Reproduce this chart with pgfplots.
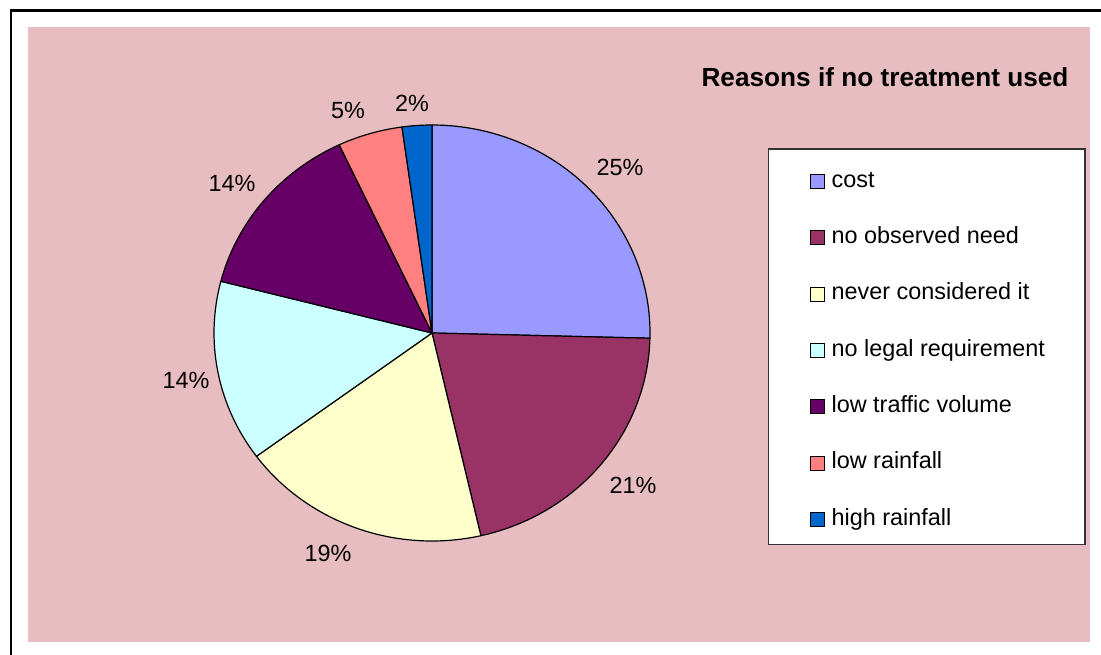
\documentclass[border=0pt]{standalone}
\usepackage{pgfplots}
\pgfplotsset{compat=1.18}
\usepackage{fontspec}
\setmainfont{Liberation Sans}
\definecolor{bgpink}{RGB}{231,189,193}
\definecolor{cCost}{HTML}{9999FF}
\definecolor{cNeed}{HTML}{993366}
\definecolor{cNever}{HTML}{FFFFCC}
\definecolor{cLegal}{HTML}{CCFFFF}
\definecolor{cTraffic}{HTML}{660066}
\definecolor{cLowRain}{HTML}{FF8080}
\definecolor{cHighRain}{HTML}{0066CC}
\begin{document}
\begin{tikzpicture}
\path[use as bounding box] (0,0) rectangle (1101bp,655bp);
\begin{axis}[
  at={(0,0)}, anchor=south west,
  scale only axis, width=1101bp, height=655bp,
  xmin=0, xmax=1101, ymin=0, ymax=655, y dir=reverse,
  hide axis, clip=false,
  legend image code/.code={\filldraw[#1] (0bp,-7bp) rectangle (14bp,7bp);},
  legend style={at={(axis cs:810,170)}, anchor=north west, draw=none, fill=none,
    font=\fontsize{23.5}{27}\selectfont, row sep=34.3bp, inner xsep=0pt, inner ysep=0pt,
    nodes={inner sep=0pt, text height=17bp, text depth=5bp},
    /tikz/every odd column/.append style={column sep=7bp}},
  legend cell align=left,
]
% frame and background
\draw[line width=2.5bp] (axis cs:10,10.5) -- (axis cs:1101,10.5);
\draw[line width=2bp] (axis cs:11.3,9.3) -- (axis cs:11.3,655);
\fill[bgpink] (axis cs:28,27) rectangle (axis cs:1090,642);
% pie slices from the data
\xdef\cum{0}
\foreach \v/\c in {25.4/cCost, 21.0/cNeed, 18.5/cNever, 14.1/cLegal, 14.0/cTraffic, 4.8/cLowRain, 2.2/cHighRain} {
  \pgfmathsetmacro\a{90-3.6*\cum}
  \pgfmathsetmacro\b{90-3.6*(\cum+\v)}
  \edef\tmp{\noexpand\filldraw[fill=\c, draw=black, line width=1.2bp, line join=round] (axis cs:432,333) -- ++(\a:218bp and 208bp) arc[start angle=\a, end angle=\b, x radius=218bp, y radius=208bp] -- cycle;}
  \tmp
  \pgfmathsetmacro\newcum{\cum+\v}
  \xdef\cum{\newcum}
}
% percentage labels
\begin{scope}[every node/.style={font=\fontsize{23.5}{27}\selectfont, inner sep=0pt}]
\node at (axis cs:620,167) {25\%};
\node at (axis cs:633,485) {21\%};
\node at (axis cs:328,553) {19\%};
\node at (axis cs:186,380) {14\%};
\node at (axis cs:232,183) {14\%};
\node at (axis cs:348,110) {5\%};
\node at (axis cs:412,103) {2\%};
\end{scope}
% title
\node[font=\bfseries\fontsize{26.3}{30}\selectfont, inner sep=0pt] at (axis cs:885,77) {Reasons if no treatment used};
% legend box
\filldraw[fill=white, draw=black!80, line width=1.2bp] (axis cs:768.5,149) rectangle (axis cs:1085,544.5);
\addlegendimage{fill=cCost, draw=black}
\addlegendentry{cost}
\addlegendimage{fill=cNeed, draw=black}
\addlegendentry{no observed need}
\addlegendimage{fill=cNever, draw=black}
\addlegendentry{never considered it}
\addlegendimage{fill=cLegal, draw=black}
\addlegendentry{no legal requirement}
\addlegendimage{fill=cTraffic, draw=black}
\addlegendentry{low traffic volume}
\addlegendimage{fill=cLowRain, draw=black}
\addlegendentry{low rainfall}
\addlegendimage{fill=cHighRain, draw=black}
\addlegendentry{high rainfall}
\end{axis}
\end{tikzpicture}
\end{document}
